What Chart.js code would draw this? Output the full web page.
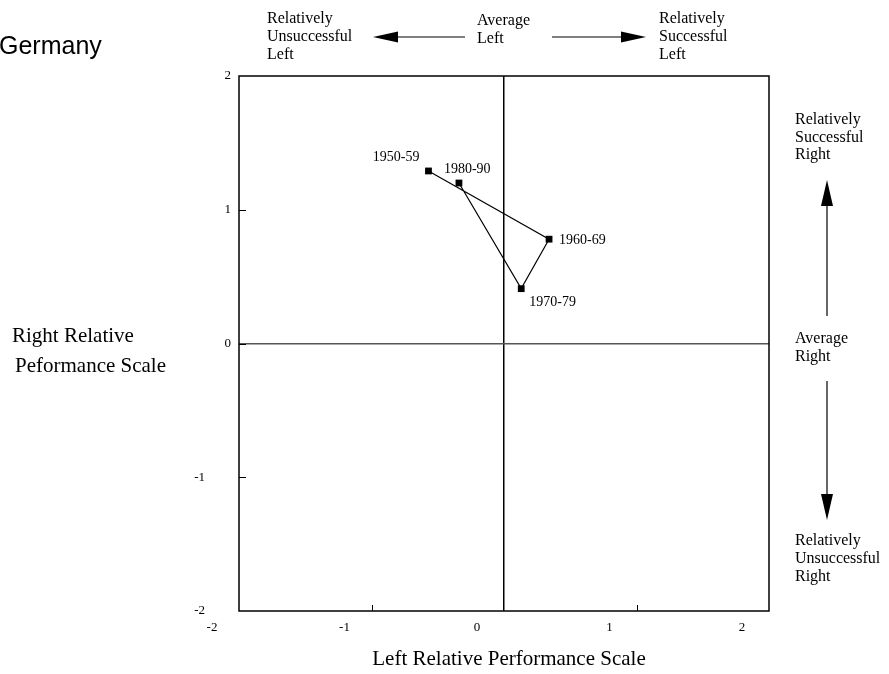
<!DOCTYPE html>
<html><head><meta charset="utf-8">
<script src="https://cdn.jsdelivr.net/npm/chart.js@4.4.0/dist/chart.umd.min.js"></script>
<style>html,body{margin:0;padding:0;background:#fff;} #wrap{position:relative;width:889px;height:674px;}</style>
</head><body><div id="wrap"><canvas id="c" width="889" height="674"></canvas></div>
<script>
// Data
const periods = ["1950-59", "1960-69", "1970-79", "1980-90"];
const leftScores = [-0.57, 0.34, 0.13, -0.34];
const rightScores = [1.29, 0.78, 0.41, 1.20];
const xTickValues = [-2, -1, 0, 1, 2];
const yTickValues = [-2, -1, 0, 1, 2];

const SERIF = '"Liberation Serif", "Times New Roman", serif';
const SANS = '"Liberation Sans", Arial, sans-serif';

const points = periods.map((p, i) => ({ x: leftScores[i], y: rightScores[i] }));

// label offsets relative to the marker (style only)
const labelPlace = [
  { dx: -9, dy: -14, align: 'right' },
  { dx: 10, dy: 1, align: 'left' },
  { dx: 8, dy: 14, align: 'left' },
  { dx: -15, dy: -14, align: 'left' }
];

function arrow(ctx, x1, y1, x2, y2, headLen, headHalf) {
  const ang = Math.atan2(y2 - y1, x2 - x1);
  const bx = x2 - headLen * Math.cos(ang), by = y2 - headLen * Math.sin(ang);
  ctx.beginPath();
  ctx.moveTo(x1, y1); ctx.lineTo(bx, by);
  ctx.lineWidth = 1.2; ctx.strokeStyle = '#000'; ctx.stroke();
  const px = -Math.sin(ang) * headHalf, py = Math.cos(ang) * headHalf;
  ctx.beginPath();
  ctx.moveTo(x2, y2); ctx.lineTo(bx + px, by + py); ctx.lineTo(bx - px, by - py);
  ctx.closePath(); ctx.fillStyle = '#000'; ctx.fill();
}

function lines(ctx, arr, x, y0, lh) {
  arr.forEach((t, i) => ctx.fillText(t, x, y0 + i * lh));
}

const decor = {
  id: 'decor',
  afterDraw(chart) {
    const ctx = chart.ctx;
    const a = chart.chartArea;
    const xs = chart.scales.x, ys = chart.scales.y;
    ctx.save();
    ctx.strokeStyle = '#000'; ctx.lineWidth = 1.5;
    ctx.strokeRect(a.left, a.top, a.right - a.left, a.bottom - a.top);
    ctx.lineWidth = 1;
    ys.ticks.forEach(t => {
      if (t.value === 2 || t.value === -2) return;
      const y = Math.round(ys.getPixelForValue(t.value)) + 0.5;
      ctx.beginPath(); ctx.moveTo(a.left, y); ctx.lineTo(a.left + 7, y); ctx.stroke();
    });
    xs.ticks.forEach(t => {
      if (t.value === 2 || t.value === -2 || t.value === 0) return;
      const x = Math.round(xs.getPixelForValue(t.value)) + 0.5;
      ctx.beginPath(); ctx.moveTo(x, a.bottom); ctx.lineTo(x, a.bottom - 6); ctx.stroke();
    });
    const meta = chart.getDatasetMeta(0);
    ctx.fillStyle = '#000';
    ctx.font = '14px ' + SERIF;
    ctx.textBaseline = 'middle';
    meta.data.forEach((el, i) => {
      const pl = labelPlace[i];
      ctx.textAlign = pl.align;
      ctx.fillText(periods[i], el.x + pl.dx, el.y + pl.dy);
    });
    ctx.textAlign = 'left';
    ctx.font = '25px ' + SANS;
    ctx.fillText('Germany', -1, 47);
    ctx.font = '16px ' + SERIF;
    lines(ctx, ['Relatively', 'Unsuccessful', 'Left'], 267, 19, 18);
    lines(ctx, ['Average', 'Left'], 477, 21, 18);
    lines(ctx, ['Relatively', 'Successful', 'Left'], 659, 19, 18);
    lines(ctx, ['Relatively', 'Successful', 'Right'], 795, 120, 17.5);
    lines(ctx, ['Average', 'Right'], 795, 339, 18);
    lines(ctx, ['Relatively', 'Unsuccessful', 'Right'], 795, 541, 18);
    arrow(ctx, 465, 37, 373, 37, 25, 5.5);
    arrow(ctx, 552, 37, 646, 37, 25, 5.5);
    arrow(ctx, 827, 316, 827, 180, 26, 6);
    arrow(ctx, 827, 381, 827, 520, 26, 6);
    ctx.font = '21px ' + SERIF;
    ctx.fillText('Right Relative', 12, 336);
    ctx.fillText('Peformance Scale', 15, 366);
    ctx.textAlign = 'center';
    ctx.fillText('Left Relative Performance Scale', 509, 659);
    ctx.restore();
  }
};

new Chart(document.getElementById('c'), {
  type: 'scatter',
  data: {
    datasets: [{
      data: points,
      showLine: true,
      borderColor: '#000',
      borderWidth: 1.2,
      backgroundColor: '#000',
      pointStyle: 'rect',
      pointRadius: 4.8,
      pointBorderWidth: 0,
      pointBackgroundColor: '#000',
      tension: 0
    }]
  },
  options: {
    responsive: false,
    animation: false,
    devicePixelRatio: 1,
    layout: { padding: { left: 0, right: 120, top: 76, bottom: 0 } },
    plugins: { legend: { display: false }, tooltip: { enabled: false }, title: { display: false } },
    scales: {
      x: {
        type: 'linear', min: -2, max: 2,
        afterFit: s => { s.height = 63; },
        afterBuildTicks: s => { s.ticks = xTickValues.map(v => ({ value: v })); },
        border: { display: false },
        grid: {
          drawTicks: false,
          color: c => (c.tick && c.tick.value === 0) ? '#000' : 'rgba(0,0,0,0)',
          lineWidth: c => (c.tick && c.tick.value === 0) ? 1.5 : 0
        },
        ticks: {
          autoSkip: false, maxRotation: 0, padding: 9, labelOffset: -27,
          color: '#000', font: { family: SERIF, size: 13 },
          callback: v => String(v)
        }
      },
      y: {
        type: 'linear', min: -2, max: 2,
        afterFit: s => { s.width = 239; },
        afterBuildTicks: s => { s.ticks = yTickValues.map(v => ({ value: v })); },
        border: { display: false },
        grid: {
          drawTicks: false,
          color: c => (c.tick && c.tick.value === 0) ? '#555' : 'rgba(0,0,0,0)',
          lineWidth: c => (c.tick && c.tick.value === 0) ? 1.5 : 0
        },
        ticks: {
          autoSkip: false, padding: 8,
          color: '#000', font: { family: SERIF, size: 13 },
          callback: v => v < 0 ? String(v) + '\u2003\u2003' : String(v)
        }
      }
    }
  },
  plugins: [decor]
});
</script></body></html>
